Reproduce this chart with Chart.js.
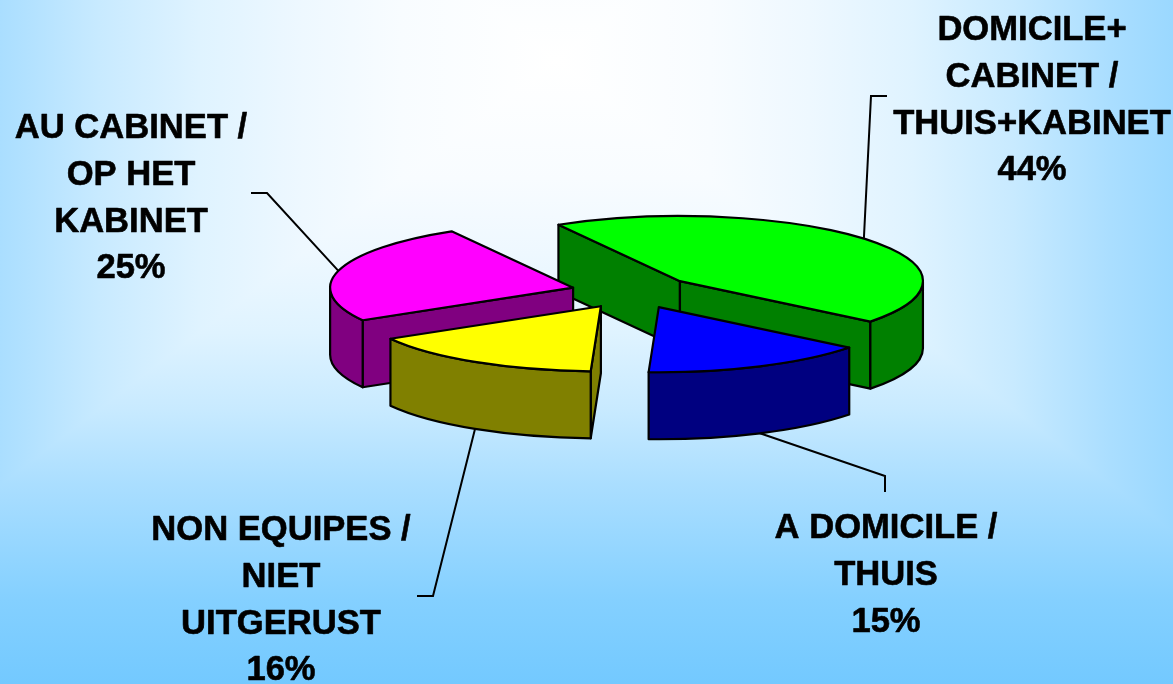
<!DOCTYPE html>
<html>
<head>
<meta charset="utf-8">
<style>
html,body{margin:0;padding:0;background:#fff;overflow:hidden}
canvas{display:block}
</style>
<script src="https://cdn.jsdelivr.net/npm/chart.js@4/dist/chart.umd.min.js"></script>
</head>
<body>
<canvas id="c" width="1173" height="684"></canvas>
<script>
const categories = ["DOMICILE+ CABINET / THUIS+KABINET", "A DOMICILE / THUIS", "NON EQUIPES / NIET UITGERUST", "AU CABINET / OP HET KABINET"];
const values = [44, 15, 16, 25];
const labelLines = [
  ["DOMICILE+", "CABINET /", "THUIS+KABINET"],
  ["A DOMICILE /", "THUIS"],
  ["NON EQUIPES /", "NIET", "UITGERUST"],
  ["AU CABINET /", "OP HET", "KABINET"]
];
const topColors = ["#00FF00", "#0000FF", "#FFFF00", "#FF00FF"];
const sideColors = ["#008000", "#000080", "#808000", "#800080"];

const SQUASH = 0.268, DEPTH = 67, EXPLODE = 62, LINE = 2.2;
const labelPos = [
  {x: 1032, y: 40}, {x: 886, y: 538}, {x: 281, y: 540}, {x: 131, y: 138}
];
const LINE_GAP = 46.8;
// Leader elbows: [corner, end]; anchor comes from the slice itself.
const leaders = [
  {pts: [[871, 96], [887, 96]], bottom: false},
  {pts: [[885, 476], [885, 492]], bottom: true},
  {pts: [[433, 596], [417, 596]], bottom: true},
  {pts: [[267, 193], [251, 193]], bottom: false}
];
// Background colour ramp: distance from the light centre -> red channel.
const rampStops = [[0, 255], [0.19, 248], [0.31, 238], [0.437, 223], [0.56, 200], [0.68, 170], [0.705, 165], [0.865, 132], [1, 115]];

function paintBackground(ctx, w, h) {
  const cx = 556, cy = 60, W = 816, H = 624;
  const stops = g => {
    rampStops.forEach(([t, r]) => {
      const gg = Math.round(201 + (r - 115) * 54 / 140);
      g.addColorStop(t, "rgb(" + r + "," + gg + ",255)");
    });
    return g;
  };
  let g = stops(ctx.createLinearGradient(0, cy, 0, cy - H));
  ctx.fillStyle = g; ctx.fillRect(0, 0, w, cy);
  g = stops(ctx.createLinearGradient(0, cy, 0, cy + H));
  ctx.fillStyle = g; ctx.fillRect(0, cy, w, h - cy);
  g = stops(ctx.createLinearGradient(cx, 0, cx - W, 0));
  ctx.fillStyle = g;
  ctx.beginPath(); ctx.moveTo(cx, cy); ctx.lineTo(cx - W, cy - H); ctx.lineTo(cx - W, cy + H); ctx.closePath(); ctx.fill();
  g = stops(ctx.createLinearGradient(cx, 0, cx + W, 0));
  ctx.fillStyle = g;
  ctx.beginPath(); ctx.moveTo(cx, cy); ctx.lineTo(cx + W, cy - H); ctx.lineTo(cx + W, cy + H); ctx.closePath(); ctx.fill();
}

function sliceGeom(el) {
  const mid = (el.startAngle + el.endAngle) / 2;
  const cx = el.x + EXPLODE * Math.cos(mid);
  const cy = el.y + EXPLODE * Math.sin(mid) * SQUASH;
  const r = el.outerRadius;
  return {mid, cx, cy, r, a0: el.startAngle, a1: el.endAngle,
    at: (a, d = 0) => [cx + r * Math.cos(a), cy + r * Math.sin(a) * SQUASH + d]};
}

function drawQuad(ctx, p, q, fill) {
  ctx.beginPath();
  ctx.moveTo(p[0], p[1]); ctx.lineTo(q[0], q[1]);
  ctx.lineTo(q[0], q[1] + DEPTH); ctx.lineTo(p[0], p[1] + DEPTH);
  ctx.closePath();
  ctx.fillStyle = fill; ctx.fill(); ctx.stroke();
}

function drawSlice(ctx, el, i) {
  const g = sliceGeom(el);
  ctx.save();
  ctx.strokeStyle = "#000"; ctx.lineWidth = LINE; ctx.lineJoin = "round";
  const apex = [g.cx, g.cy];
  // radial faces that look toward the viewer
  if (Math.sin(g.a0 - Math.PI / 2) > 0) drawQuad(ctx, apex, g.at(g.a0), sideColors[i]);
  if (Math.sin(g.a1 + Math.PI / 2) > 0) drawQuad(ctx, apex, g.at(g.a1), sideColors[i]);
  // outer wall: the part of the rim on the front half
  const norm = a => { while (a < 0) a += 2 * Math.PI; while (a >= 2 * Math.PI) a -= 2 * Math.PI; return a; };
  const s = norm(g.a0), span = g.a1 - g.a0;
  const from = s, to = s + span;
  for (const [lo, hi] of [[0, Math.PI], [2 * Math.PI, 3 * Math.PI]]) {
    const a = Math.max(from, lo), b = Math.min(to, hi);
    if (b > a) {
      ctx.beginPath();
      ctx.ellipse(g.cx, g.cy, g.r, g.r * SQUASH, 0, a, b);
      ctx.ellipse(g.cx, g.cy + DEPTH, g.r, g.r * SQUASH, 0, b, a, true);
      ctx.closePath();
      ctx.fillStyle = sideColors[i]; ctx.fill(); ctx.stroke();
    }
  }
  // top face: the library's own arc, squashed and moved out
  ctx.save();
  ctx.translate(g.cx, g.cy);
  ctx.scale(1, SQUASH);
  ctx.translate(-el.x, -el.y);
  el.draw(ctx);
  ctx.restore();
  ctx.beginPath();
  ctx.moveTo(g.cx, g.cy);
  ctx.ellipse(g.cx, g.cy, g.r, g.r * SQUASH, 0, g.a0, g.a1);
  ctx.closePath();
  ctx.stroke();
  ctx.restore();
}

const pie3d = {
  id: "pie3d",
  beforeDraw(chart) { paintBackground(chart.ctx, chart.width, chart.height); },
  beforeDatasetDraw(chart, args) {
    const ctx = chart.ctx, arcs = chart.getDatasetMeta(args.index).data;
    ctx.save();
    ctx.strokeStyle = "#000"; ctx.lineWidth = 2;
    arcs.forEach((el, i) => {
      const g = sliceGeom(el), L = leaders[i];
      const a = g.at(g.mid, L.bottom ? DEPTH : 0);
      ctx.beginPath(); ctx.moveTo(a[0], a[1]);
      L.pts.forEach(p => ctx.lineTo(p[0], p[1]));
      ctx.stroke();
    });
    ctx.restore();
    arcs.map((el, i) => ({el, i}))
      .sort((p, q) => Math.sin((p.el.startAngle + p.el.endAngle) / 2) - Math.sin((q.el.startAngle + q.el.endAngle) / 2))
      .forEach(o => drawSlice(ctx, o.el, o.i));
    return false;
  },
  afterDatasetsDraw(chart) {
    const ctx = chart.ctx;
    ctx.save();
    ctx.fillStyle = "#000"; ctx.strokeStyle = "#000"; ctx.lineWidth = 0.6; ctx.lineJoin = "round";
    ctx.font = 'bold 34.6px "Liberation Sans", Arial, sans-serif';
    ctx.textAlign = "center"; ctx.textBaseline = "alphabetic";
    labelLines.forEach((lines, i) => {
      const all = lines.concat(values[i] + "%");
      all.forEach((t, n) => {
        ctx.fillText(t, labelPos[i].x, labelPos[i].y + n * LINE_GAP);
        ctx.strokeText(t, labelPos[i].x, labelPos[i].y + n * LINE_GAP);
      });
    });
    ctx.restore();
  }
};

new Chart(document.getElementById("c"), {
  type: "pie",
  data: {
    labels: categories,
    datasets: [{data: values, backgroundColor: topColors, borderWidth: 0, radius: 243}]
  },
  options: {
    responsive: false,
    animation: false,
    rotation: -30,
    layout: {padding: {left: 93, bottom: 100}},
    plugins: {legend: {display: false}, tooltip: {enabled: false}, title: {display: false}}
  },
  plugins: [pie3d]
});
</script>
</body>
</html>
